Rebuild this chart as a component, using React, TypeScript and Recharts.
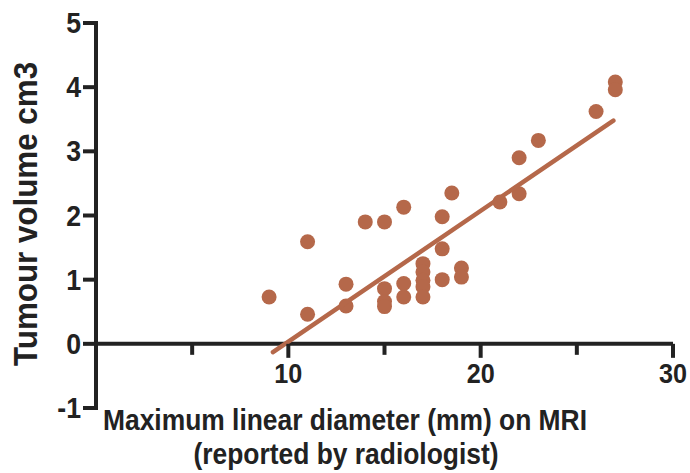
import { ScatterChart, Scatter, XAxis, YAxis, ReferenceLine } from 'recharts'

// diameter (mm) and tumour volume (cm3)
const diameter = [9, 11, 11, 13, 13, 14, 15, 15, 15, 15, 16, 16, 16, 17, 17, 17, 17, 17, 18, 18, 18, 18.5, 19, 19, 21, 22, 22, 23, 26, 27, 27]
const volume = [0.73, 0.46, 1.59, 0.93, 0.59, 1.9, 1.9, 0.86, 0.66, 0.58, 2.13, 0.94, 0.73, 1.25, 1.12, 0.99, 0.89, 0.73, 1.98, 1.48, 1.0, 2.35, 1.18, 1.04, 2.21, 2.34, 2.9, 3.17, 3.62, 4.08, 3.96]

// fitted line end points
const fitX = [9.2, 26.9]
const fitY = [-0.13, 3.48]

const xTicks = [5, 10, 15, 20, 25, 30]
const xLabelled = [10, 20, 30]
const yTicks = [-1, 0, 1, 2, 3, 4, 5]

const xTitle = ['Maximum linear diameter (mm) on MRI', '(reported by radiologist)']
const yTitle = 'Tumour volume cm3'

const points = diameter.map((d, i) => ({ x: d, y: volume[i] }))
const fit = fitX.map((d, i) => ({ x: d, y: fitY[i] }))

const W = 690
const H = 473
const TOP = 23
const BOTTOM = 65
const Y_AXIS_W = 96
const Y_MIN = -1
const Y_MAX = 5
const PLOT_H = H - TOP - BOTTOM
const ZERO_Y = TOP + (PLOT_H * (Y_MAX - 0)) / (Y_MAX - Y_MIN)

const INK = '#222'
const DOT = '#b5684a'
const FONT = '"Liberation Sans", Arial, sans-serif'
const LW = 4

const XTick = (props: any) => {
  const { x, payload } = props
  const major = xLabelled.includes(payload.value)
  return (
    <g>
      <line x1={x} x2={x} y1={ZERO_Y} y2={ZERO_Y + (major ? 14 : 11)} stroke={INK} strokeWidth={LW} />
      {major && (
        <g transform={`translate(${x},${ZERO_Y + 39}) scale(0.9,1)`}>
          <text x={0} y={0} textAnchor="middle" fontSize={28} fontWeight="bold" fontFamily={FONT} fill={INK}>
            {payload.value}
          </text>
        </g>
      )}
    </g>
  )
}

// axis titles, drawn once inside the svg
const Titles = () => (
  <g fontFamily={FONT} fontWeight="bold" fill={INK}>
    <g transform="translate(345,430) scale(0.88,1)">
      <text x={0} y={0} textAnchor="middle" fontSize={30}>{xTitle[0]}</text>
    </g>
    <g transform="translate(346,464) scale(0.88,1)">
      <text x={0} y={0} textAnchor="middle" fontSize={30}>{xTitle[1]}</text>
    </g>
    <g transform="translate(37,214) rotate(-90) scale(0.95,1)">
      <text x={0} y={0} textAnchor="middle" fontSize={33}>{yTitle}</text>
    </g>
  </g>
)

const YTick = (props: any) => {
  const { y, payload } = props
  return (
    <g>
      <line x1={Y_AXIS_W - 13} x2={Y_AXIS_W} y1={y} y2={y} stroke={INK} strokeWidth={LW} />
      {payload.value === Y_MIN && (
        <>
          <line x1={Y_AXIS_W} x2={Y_AXIS_W} y1={y + LW / 2} y2={TOP - LW / 2} stroke={INK} strokeWidth={LW} />
          <Titles />
        </>
      )}
      <g transform={`translate(${Y_AXIS_W - 15},${y + 10}) scale(0.92,1)`}>
        <text x={0} y={0} textAnchor="end" fontSize={29} fontWeight="bold" fontFamily={FONT} fill={INK}>
          {payload.value}
        </text>
      </g>
    </g>
  )
}

const Dot = (props: any) => <circle cx={props.cx} cy={props.cy} r={7.5} fill={DOT} />

export default function App() {
  return (
    <div style={{ position: 'absolute', left: 0, top: 0, width: W, height: H, background: '#fff' }}>
      <ScatterChart width={W} height={H} margin={{ top: TOP, right: 17, bottom: BOTTOM - 1, left: 0 }}>
        <XAxis type="number" dataKey="x" domain={[0, 30]} ticks={xTicks} height={1} axisLine={false} tickLine={false} tick={XTick} interval={0} />
        <YAxis type="number" dataKey="y" domain={[Y_MIN, Y_MAX]} ticks={yTicks} width={Y_AXIS_W} axisLine={false} tickLine={false} tick={YTick} interval={0} />
        <ReferenceLine y={0} stroke={INK} strokeWidth={LW} />
        <Scatter data={points} shape={<Dot />} isAnimationActive={false} />
        <Scatter data={fit} line={{ stroke: DOT, strokeWidth: 4.5, strokeLinecap: 'round' }} shape={() => <g />} isAnimationActive={false} />
      </ScatterChart>
    </div>
  )
}
